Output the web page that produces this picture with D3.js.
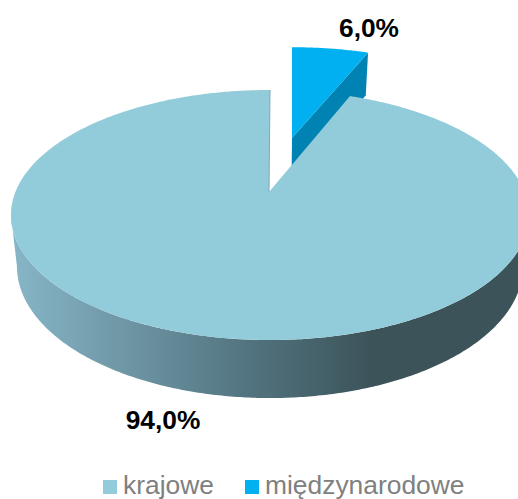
<!DOCTYPE html>
<html>
<head>
<meta charset="utf-8">
<script src="https://cdn.jsdelivr.net/npm/d3@7"></script>
<style>
  html, body { margin: 0; padding: 0; background: #fff; overflow: hidden; }
  svg { display: block; font-family: "Liberation Sans", Arial, sans-serif; }
</style>
</head>
<body>
<svg id="chart" width="518" height="499"></svg>
<script>
const categories = ["krajowe", "międzynarodowe"];
const shares = [94.0, 6.0];
const shareLabels = ["94,0%", "6,0%"];

const topColors = ["#92cbda", "#00b0f0"];
const cutColor = "#0083b3";

const width = 518;
const height = 499;

const svg = d3.select("#chart");

// perspective disc: apex of the pie sits above the middle of the ellipse
const cx = 270;
const cy = 192;
const radiusX = 254.6;
const radiusY = 120.8;
const tilt = 0.184;

function project(angle) {
  const u = Math.sin(angle);
  const v = -Math.cos(angle);
  const w = 1 - tilt * v;
  return [cx + radiusX * u / w, cy + radiusY * v / w];
}

// the bottom of the disc is a bit narrower, wall gets taller towards the viewer
const depth = d3.scaleLinear().domain([96, 340]).range([45, 58]);
function lower([x, y]) {
  return [cx + (x - cx) * 0.977, y + depth(y)];
}

// pulled out slice is moved and a little smaller
const pullX = 22;
const pullY = -54;
function pulled([x, y]) {
  return [cx + (x - cx) * 0.95 + pullX, cy + (y - cy) * 0.89 + pullY];
}

const pie = d3.pie().sort(null).startAngle(2 * Math.PI * 0.06).endAngle(2 * Math.PI * 1.06);
const slices = pie(shares);
const [mainSlice, smallSlice] = slices;

function arcPoints(a0, a1) {
  const n = Math.max(8, Math.ceil((a1 - a0) / 0.01));
  return d3.range(n + 1).map(i => project(a0 + (a1 - a0) * i / n));
}

const line = d3.line();

const defs = svg.append("defs");
const wallGradient = defs.append("linearGradient")
  .attr("id", "wall")
  .attr("gradientUnits", "userSpaceOnUse")
  .attr("x1", 16).attr("x2", 372).attr("y1", 0).attr("y2", 0);
wallGradient.append("stop").attr("offset", 0).attr("stop-color", "#86b5c6");
wallGradient.append("stop").attr("offset", 0.3).attr("stop-color", "#6f97a5");
wallGradient.append("stop").attr("offset", 0.65).attr("stop-color", "#527480");
wallGradient.append("stop").attr("offset", 1).attr("stop-color", "#3c5359");

// small slice, cut face first, top on it
const smallArc = arcPoints(smallSlice.startAngle, smallSlice.endAngle).map(pulled);
const smallApex = pulled([cx, cy]);
const smallOuter = pulled(project(smallSlice.endAngle));

svg.append("path")
  .attr("fill", cutColor)
  .attr("d", line([
    smallApex,
    smallOuter,
    lower(smallOuter),
    lower(smallApex)
  ]) + "Z");

svg.append("path")
  .attr("fill", topColors[1])
  .attr("d", line([smallApex, ...smallArc]) + "Z");

// big slice: wall runs between the two widest points of the outline
const widest = Math.acos(-tilt);
const frontArc = arcPoints(widest, 2 * Math.PI - widest);
const mainArc = arcPoints(mainSlice.startAngle, mainSlice.endAngle);

svg.append("path")
  .attr("fill", "url(#wall)")
  .attr("d", line([...frontArc, ...frontArc.slice().reverse().map(lower)]) + "Z");

svg.append("path")
  .attr("fill", topColors[0])
  .attr("d", line([[cx - 1, cy], ...mainArc]) + "Z");

// thin shaded edge on the left side of the notch
svg.append("line")
  .attr("x1", cx - 1).attr("y1", cy)
  .attr("x2", project(mainSlice.endAngle)[0])
  .attr("y2", project(mainSlice.endAngle)[1])
  .attr("stroke", "#7fa9b8")
  .attr("stroke-width", 1);

// data labels
const labelX = [163, 369];
const labelY = [429, 37];
svg.selectAll("text.value")
  .data(shareLabels)
  .join("text")
  .attr("class", "value")
  .attr("x", (d, i) => labelX[i])
  .attr("y", (d, i) => labelY[i])
  .attr("text-anchor", "middle")
  .attr("font-size", 26.3)
  .attr("font-weight", "bold")
  .attr("fill", "#000")
  .text(d => d);

// legend
const legendX = [103, 245];
const legend = svg.selectAll("g.legend")
  .data(categories)
  .join("g")
  .attr("class", "legend")
  .attr("transform", (d, i) => `translate(${legendX[i]},494)`);

legend.append("rect")
  .attr("x", 0)
  .attr("y", -14)
  .attr("width", 14)
  .attr("height", 14)
  .attr("fill", (d, i) => topColors[i]);

legend.append("text")
  .attr("x", 20)
  .attr("y", 0)
  .attr("font-size", 26.4)
  .attr("fill", "#808080")
  .text(d => d);
</script>
</body>
</html>
